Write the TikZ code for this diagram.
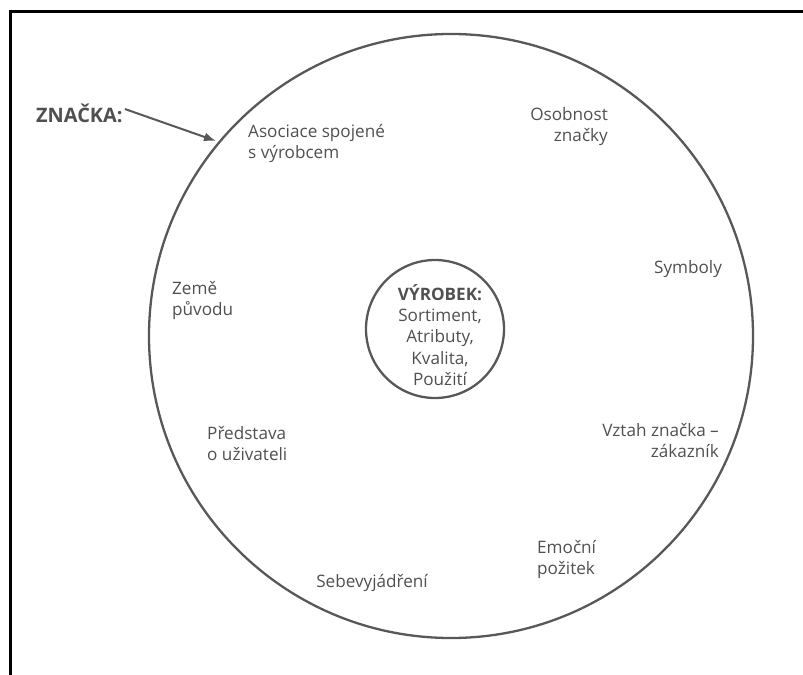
\documentclass[tikz,border=0pt]{standalone}
\usepackage{fontspec}
\setmainfont{Open Sans}
\usetikzlibrary{arrows.meta}
\definecolor{txt}{HTML}{505050}
\definecolor{ln}{HTML}{585858}
\tikzset{
  lbl/.style={text=txt, font=\fontsize{17.2}{21.5}\selectfont, inner sep=0pt},
  ring/.style={draw=ln, line width=2.3bp},
}
\begin{document}
\begin{tikzpicture}[x=1bp,y=-1bp]
\useasboundingbox (0,0) rectangle (803,675);
% frame
\draw[line width=3bp, black] (10,675) -- (10,12) -- (803,12);
% circles
\node[ring, circle, minimum size=604bp, inner sep=0pt] (outer) at (451,336) {};
\node[ring, circle, minimum size=138bp, inner sep=0pt] (inner) at (435,329) {};
% title with arrow
\node[lbl, anchor=west, font=\fontsize{20}{21}\selectfont\bfseries] (znacka) at (36,113) {ZNAČKA:};
\coordinate (tip) at (216,141);
\draw[ln, line width=2bp, -{Latex[length=12bp,width=9bp]}] (znacka.east) ++(2,-4) -- (tip);
% labels
\node[lbl, anchor=north west, align=left] (asoc) at (248,124) {Asociace spojené\\s výrobcem};
\node[lbl, anchor=north east, align=right] (osob) at (608,107) {Osobnost\\značky};
\node[lbl] (symb) at (688,269) {Symboly};
\node[lbl, anchor=north west, align=left] (zeme) at (172,281) {Země\\původu};
\node[lbl, align=center] (vyr) at (440,335) {\textbf{VÝROBEK:}\\Sortiment,\\Atributy,\\Kvalita,\\Použití};
\node[lbl, anchor=north west, align=left] (pred) at (207,426) {Představa\\o uživateli};
\node[lbl, anchor=north east, align=right] (vztah) at (719,423) {Vztah značka –\\zákazník};
\node[lbl, anchor=north west, align=left] (emoc) at (537,540) {Emoční\\požitek};
\node[lbl] (sebe) at (372,583) {Sebevyjádření};
\end{tikzpicture}
\end{document}
